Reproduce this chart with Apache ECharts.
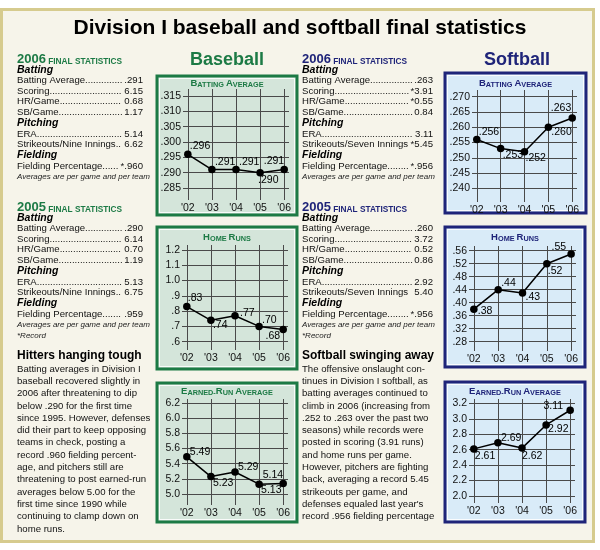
<!DOCTYPE html>
<html><head><meta charset="utf-8">
<script src="https://cdn.jsdelivr.net/npm/echarts@6/dist/echarts.min.js"></script>
<style>html,body{margin:0;padding:0;background:#fff}#c{width:600px;height:550px}</style>
</head><body><div id="c"></div>
<script>
// ---------- data ----------
const years = ["'02", "'03", "'04", "'05", "'06"];
const bbBatting = [0.296, 0.291, 0.291, 0.290, 0.291];
const bbHomeRuns = [0.83, 0.74, 0.77, 0.70, 0.68];
const bbEra = [5.49, 5.23, 5.29, 5.13, 5.14];
const sbBatting = [0.256, 0.253, 0.252, 0.260, 0.263];
const sbHomeRuns = [0.38, 0.44, 0.43, 0.52, 0.55];
const sbEra = [2.61, 2.69, 2.62, 2.92, 3.11];

const bbBattingTicks = [0.285, 0.290, 0.295, 0.300, 0.305, 0.310, 0.315];
const bbHomeRunTicks = [0.6, 0.7, 0.8, 0.9, 1.0, 1.1, 1.2];
const bbEraTicks = [5.0, 5.2, 5.4, 5.6, 5.8, 6.0, 6.2];
const sbBattingTicks = [0.240, 0.245, 0.250, 0.255, 0.260, 0.265, 0.270];
const sbHomeRunTicks = [0.28, 0.32, 0.36, 0.40, 0.44, 0.48, 0.52, 0.56];
const sbEraTicks = [2.0, 2.2, 2.4, 2.6, 2.8, 3.0, 3.2];

const chartTitles = ['Batting Average', 'Home Runs', 'Earned-Run Average'];
const sportTitles = ['Baseball', 'Softball'];
const mainTitle = 'Division I baseball and softball final statistics';

const statGroups = ['Batting', 'Pitching', 'Fielding'];
const bbStatLabels = ['Batting Average', 'Scoring', 'HR/Game', 'SB/Game', 'ERA', 'Strikeouts/Nine Innings', 'Fielding Percentage'];
const sbStatLabels = ['Batting Average', 'Scoring', 'HR/Game', 'SB/Game', 'ERA', 'Strikeouts/Seven Innings', 'Fielding Percentage'];
const bb2006 = ['.291', '6.15', '0.68', '1.17', '5.14', '6.62', '*.960'];
const bb2005 = ['.290', '6.14', '0.70', '1.19', '5.13', '6.75', '.959'];
const sb2006 = ['.263', '*3.91', '*0.55', '0.84', '3.11', '*5.45', '*.956'];
const sb2005 = ['.260', '3.72', '0.52', '0.86', '2.92', '5.40', '*.956'];
const statNote = 'Averages are per game and per team';
const recordNote = '*Record';

const bbStoryTitle = 'Hitters hanging tough';
const bbStory = [
  'Batting averages in Division I',
  'baseball recovered slightly in',
  '2006 after threatening to dip',
  'below .290 for the first time',
  'since 1995. However, defenses',
  'did their part to keep opposing',
  'teams in check, posting a',
  'record .960 fielding percent-',
  'age, and pitchers still are',
  'threatening to post earned-run',
  'averages below 5.00 for the',
  'first time since 1990 while',
  'continuing to clamp down on',
  'home runs.'
];
const sbStoryTitle = 'Softball swinging away';
const sbStory = [
  'The offensive onslaught con-',
  'tinues in Division I softball, as',
  'batting averages continued to',
  'climb in 2006 (increasing from',
  '.252 to .263 over the past two',
  'seasons) while records were',
  'posted in scoring (3.91 runs)',
  'and home runs per game.',
  'However, pitchers are fighting',
  'back, averaging a record 5.45',
  'strikeouts per game, and',
  "defenses equaled last year's",
  'record .956 fielding percentage'
];

// ---------- styles / layout ----------
const FONT = "'Liberation Sans', Arial, Helvetica, sans-serif";
const GREEN = '#1c7a45', NAVY = '#1f2479';
const GREEN_FILL = '#d4e5da', BLUE_FILL = '#d9ebf8';

function fmtDp(dp) { return v => { const s = Number(v).toFixed(dp); return s.startsWith('0.') ? s.slice(1) : s; }; }

const specs = [
  { data: bbBatting, ticks: bbBattingTicks, title: chartTitles[0], yDp: 3, lDp: 3, color: GREEN, fill: GREEN_FILL,
    box: [157, 76, 140, 139], titleY: 83, grid: [183, 89, 106, 111], tickPx: [96, 188],
    place: [['left', 2, -8], ['left', 3, -7], ['left', 3, -7], ['left', -2, 7], ['right', 0, -8]] },
  { data: bbHomeRuns, ticks: bbHomeRunTicks, title: chartTitles[1], yDp: 1, lDp: 2, color: GREEN, fill: GREEN_FILL,
    box: [157, 227, 140, 142], titleY: 237, grid: [182, 245, 106, 105], tickPx: [250, 341.7],
    place: [['left', 1, -8], ['left', 2, 5], ['left', 5, -3], ['left', 3, -6], ['right', -3, 7]] },
  { data: bbEra, ticks: bbEraTicks, title: chartTitles[2], yDp: 1, lDp: 2, color: GREEN, fill: GREEN_FILL,
    box: [157, 383, 140, 139], titleY: 391, grid: [182, 399, 106, 106], tickPx: [403, 494],
    place: [['left', 3, -5], ['left', 2, 7], ['left', 3, -5], ['left', 2, 6], ['right', 0, -8]] },
  { data: sbBatting, ticks: sbBattingTicks, title: chartTitles[0], yDp: 3, lDp: 3, color: NAVY, fill: BLUE_FILL,
    box: [445, 73, 141, 140], titleY: 83, grid: [472, 90, 105, 112], tickPx: [96.7, 188.3],
    place: [['left', 2, -7], ['left', 2, 7], ['left', 1, 6], ['left', 3, 5], ['right', -1, -10]] },
  { data: sbHomeRuns, ticks: sbHomeRunTicks, title: chartTitles[1], yDp: 2, lDp: 2, color: NAVY, fill: BLUE_FILL,
    box: [445, 227, 140, 140], titleY: 237, grid: [469, 246, 107, 105], tickPx: [250.7, 341.7],
    place: [['left', 4, 2], ['left', 3, -7], ['left', 3, 4], ['left', 1, 7], ['right', -5, -7]] },
  { data: sbEra, ticks: sbEraTicks, title: chartTitles[2], yDp: 1, lDp: 2, color: NAVY, fill: BLUE_FILL,
    box: [445, 382, 140, 140], titleY: 391, grid: [469, 399, 106, 104], tickPx: [403.3, 496],
    place: [['left', 1, 7], ['left', 3, -5], ['left', 0, 8], ['left', 2, 4], ['right', -7, -4]] }
];

const grids = [], xAxes = [], yAxes = [], series = [], graphics = [];
const xIdx = years.map((_, i) => i);

function T(text, x, y, font, fill, align) {
  return { type: 'text', x: x, y: y, z: 10, silent: true,
    style: { text: text, font: font, fill: fill || '#000', align: align || 'left', verticalAlign: 'middle' } };
}
function smallCaps(title) {
  let out = '';
  title.split(/([ \-])/).forEach(w => {
    if (w === ' ' || w === '-') { out += '{s|' + w + '}'; return; }
    if (!w) return;
    out += '{b|' + w[0].toUpperCase() + '}' + (w.length > 1 ? '{s|' + w.slice(1).toUpperCase() + '}' : '');
  });
  return out;
}

// frame
graphics.push({ type: 'rect', z: -20, silent: true, shape: { x: 1.5, y: 9.5, width: 592, height: 532 },
  style: { fill: '#f6f4ea', stroke: '#d6cb8e', lineWidth: 3 } });
graphics.push(T(mainTitle, 300, 28, 'bold 21px ' + FONT, '#000', 'center'));
graphics.push(T(sportTitles[0], 227, 60, 'bold 18px ' + FONT, GREEN, 'center'));
graphics.push(T(sportTitles[1], 517, 60, 'bold 18px ' + FONT, NAVY, 'center'));

specs.forEach((s, i) => {
  const [bx, by, bw, bh] = s.box;
  graphics.push({ type: 'rect', z: -10, silent: true, shape: { x: bx, y: by, width: bw, height: bh },
    style: { fill: s.fill, stroke: s.color, lineWidth: 3 } });
  graphics.push({ type: 'rect', z: -9, silent: true, shape: { x: bx + 2.5, y: by + 2.5, width: bw - 5, height: bh - 5 },
    style: { fill: 'none', stroke: 'rgba(255,255,255,0.85)', lineWidth: 1 } });
  graphics.push({ type: 'text', x: bx + bw / 2, y: s.titleY, z: 10, silent: true,
    style: { text: smallCaps(s.title), align: 'center', verticalAlign: 'middle',
      rich: { b: { fontFamily: FONT, fontWeight: 'bold', fontSize: 9.5, fill: s.color, verticalAlign: 'bottom', lineHeight: 11 },
              s: { fontFamily: FONT, fontWeight: 'bold', fontSize: 7.3, fill: s.color, verticalAlign: 'bottom', lineHeight: 11 } } } });

  const [gl, gt, gw, gh] = s.grid;
  const vTop = s.ticks[s.ticks.length - 1], vBot = s.ticks[0];
  const ppu = (s.tickPx[1] - s.tickPx[0]) / (vTop - vBot);
  const yMax = vTop + (s.tickPx[0] - gt) / ppu;
  const yMin = vBot - (gt + gh - s.tickPx[1]) / ppu;
  grids.push({ left: gl, top: gt, width: gw, height: gh, containLabel: false, outerBoundsMode: 'none', show: false });
  const gridLine = { show: true, lineStyle: { color: '#4a4a4a', width: 1 } };
  xAxes.push({ type: 'value', gridIndex: i, min: -0.2, max: 4.2,
    axisLine: { show: false }, axisTick: { show: false, customValues: xIdx },
    axisLabel: { customValues: xIdx, formatter: v => years[Math.round(v)], margin: 3,
      fontFamily: FONT, fontSize: 10.5, color: '#111' },
    splitLine: gridLine });
  const yf = fmtDp(s.yDp);
  yAxes.push({ type: 'value', gridIndex: i, min: yMin, max: yMax,
    axisLine: { show: false }, axisTick: { show: false, customValues: s.ticks },
    axisLabel: { customValues: s.ticks, formatter: v => yf(v), margin: 2,
      fontFamily: FONT, fontSize: 10.5, color: '#111' },
    splitLine: gridLine });
  const lf = fmtDp(s.lDp);
  series.push({ type: 'line', xAxisIndex: i, yAxisIndex: i, silent: true, animation: false, z: 5,
    symbol: 'circle', symbolSize: 7.5, itemStyle: { color: '#000' },
    lineStyle: { color: '#000', width: 1.5 },
    label: { show: true, position: 'inside', formatter: p => lf(p.value[1]),
      fontFamily: FONT, fontSize: 10.5, color: '#000' },
    data: s.data.map((v, j) => ({ value: [j, v],
      label: { align: s.place[j][0], verticalAlign: 'middle', offset: [s.place[j][1], s.place[j][2]] } })) });
});

// stats columns
const meas = document.createElement('canvas').getContext('2d');
function tw(t, f) { meas.font = f; return meas.measureText(t).width; }
const STEP = 10.7;
function statBlock(x0, xR, y0, year, color, labels, values, record) {
  graphics.push({ type: 'text', x: x0, y: y0, z: 10, silent: true,
    style: { text: '{a|' + year + '}{b| FINAL STATISTICS}', verticalAlign: 'middle', align: 'left',
      rich: { a: { fontFamily: FONT, fontWeight: 'bold', fontSize: 13, fill: color, verticalAlign: 'bottom', lineHeight: 14 },
              b: { fontFamily: FONT, fontWeight: 'bold', fontSize: 8.3, fill: color, verticalAlign: 'bottom', lineHeight: 14 } } } });
  let r = 1;
  const ranges = [[0, 4], [4, 6], [6, 7]];
  const lfnt = '9.6px ' + FONT;
  ranges.forEach((g, gi) => {
    graphics.push(T(statGroups[gi], x0, y0 + r * STEP, 'italic bold 10.5px ' + FONT, '#000'));
    r++;
    for (let k = g[0]; k < g[1]; k++) {
      const y = y0 + r * STEP;
      const lw = tw(labels[k], lfnt), vw = tw(values[k], lfnt), dw = tw('.', lfnt);
      const room = xR - x0 - lw - vw - 1;
      let lead;
      if (room >= 2 * dw) lead = '.'.repeat(Math.floor(room / dw));
      else lead = values[k].startsWith('*') ? '' : ' ';
      graphics.push(T(labels[k] + lead, x0, y, lfnt, '#111'));
      graphics.push(T(values[k], xR, y, lfnt, '#111', 'right'));
      r++;
    }
  });
  graphics.push(T(statNote, x0, y0 + r * STEP, 'italic 8px ' + FONT, '#222'));
  r++;
  if (record) graphics.push(T(recordNote, x0, y0 + r * STEP, 'italic 8px ' + FONT, '#222'));
}
statBlock(17, 143, 59, '2006', GREEN, bbStatLabels, bb2006, false);
statBlock(17, 143, 207, '2005', GREEN, bbStatLabels, bb2005, true);
statBlock(302, 433, 59, '2006', NAVY, sbStatLabels, sb2006, false);
statBlock(302, 433, 207, '2005', NAVY, sbStatLabels, sb2005, true);

function story(x0, y0, title, lines) {
  graphics.push(T(title, x0, y0, 'bold 12px ' + FONT, '#000'));
  lines.forEach((l, i) => graphics.push(T(l, x0, y0 + 13 + i * 12.3, '9.6px ' + FONT, '#111')));
}
story(17, 356, bbStoryTitle, bbStory);
story(302, 356, sbStoryTitle, sbStory);

const chart = echarts.init(document.getElementById('c'), null, { renderer: 'canvas' });
chart.setOption({
  backgroundColor: '#ffffff',
  animation: false,
  grid: grids, xAxis: xAxes, yAxis: yAxes, series: series,
  graphic: { elements: graphics }
});
</script>
</body></html>
